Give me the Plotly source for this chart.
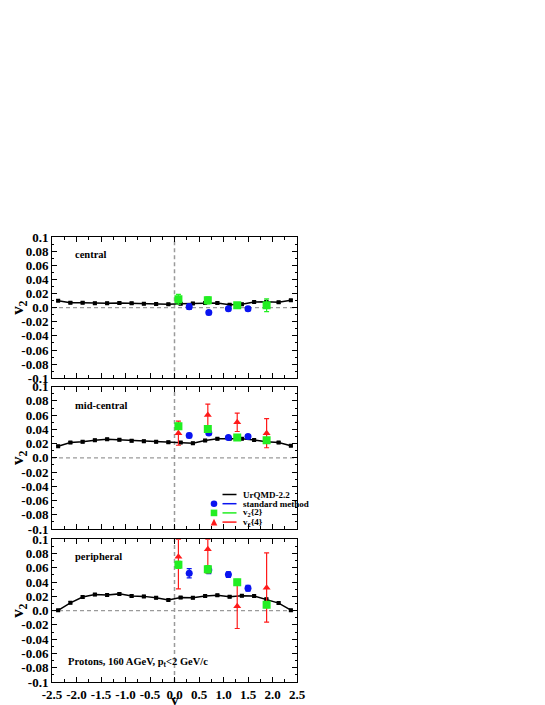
import plotly.graph_objects as go

# rapidity bins of the UrQMD-2.2 curve
Y_MODEL = [-2.375, -2.125, -1.875, -1.625, -1.375, -1.125, -0.875, -0.625, -0.375, -0.125,
           0.125, 0.375, 0.625, 0.875, 1.125, 1.375, 1.625, 1.875, 2.125, 2.375]

URQMD_CENTRAL = [0.0099, 0.0070, 0.0070, 0.0062, 0.0062, 0.0066, 0.0062, 0.0056, 0.0050, 0.0047,
                 0.0056, 0.0060, 0.0066, 0.0066, 0.0040, 0.0047, 0.0080, 0.0085, 0.0075, 0.0104]
URQMD_MID = [0.0164, 0.0215, 0.0225, 0.0248, 0.0260, 0.0253, 0.0239, 0.0234, 0.0225, 0.0220,
             0.0215, 0.0206, 0.0244, 0.0267, 0.0270, 0.0270, 0.0250, 0.0225, 0.0215, 0.0170]
URQMD_PERI = [0.0005, 0.0110, 0.0190, 0.0225, 0.0218, 0.0235, 0.0205, 0.0200, 0.0180, 0.0150,
              0.0183, 0.0180, 0.0205, 0.0215, 0.0195, 0.0210, 0.0205, 0.0160, 0.0106, 0.0007]
URQMD_ERR = [0.0012, 0.0015, 0.0015, 0.0015, 0.0015, 0.0015, 0.0015, 0.0015, 0.0015, 0.0015,
             0.0015, 0.0015, 0.0015, 0.0015, 0.0015, 0.0015, 0.0015, 0.0015, 0.0015, 0.0012]

# NA49 data: standard method, v2{2}, v2{4}
Y_SM = [0.3, 0.7, 1.1, 1.5]
Y_CUM = [0.08, 0.68, 1.28, 1.88]

SM_CENTRAL = [0.0014, -0.0070, -0.0014, -0.0014]
SM_CENTRAL_ERR = [0.0040, 0.0030, 0.0030, 0.0030]
SM_MID = [0.0314, 0.0350, 0.0286, 0.0300]
SM_MID_ERR = [0.0030, 0.0025, 0.0020, 0.0025]
SM_PERI = [0.0525, 0.0570, 0.0505, 0.0313]
SM_PERI_ERR = [0.0065, 0.0050, 0.0040, 0.0040]

V22_CENTRAL = [0.0118, 0.0104, 0.0033, 0.0033]
V22_CENTRAL_ERR = [0.0070, 0.0050, 0.0040, 0.0090]
V22_MID = [0.0445, 0.0407, 0.0286, 0.0248]
V22_MID_ERR = [0.0045, 0.0025, 0.0020, 0.0030]
V22_PERI = [0.0642, 0.0580, 0.0398, 0.0082]
V22_PERI_ERR = [0.0050, 0.0050, 0.0040, 0.0040]

V24_MID = [0.0347, 0.0604, 0.0500, 0.0347]
V24_MID_ERR = [0.0170, 0.0150, 0.0130, 0.0205]
V24_PERI = [0.0755, 0.0860, 0.0060, 0.0320]
V24_PERI_UP = [0.0245, 0.0140, 0.0350, 0.0490]
V24_PERI_DN = [0.0450, 0.0330, 0.0310, 0.0480]

Y_TICKS = [-0.1, -0.08, -0.06, -0.04, -0.02, 0.0, 0.02, 0.04, 0.06, 0.08, 0.1]
Y_TICKTEXT = ["-0.1", "-0.08", "-0.06", "-0.04", "-0.02", "0.0", "0.02", "0.04", "0.06", "0.08", "0.1"]
X_TICKS = [-2.5, -2.0, -1.5, -1.0, -0.5, 0.0, 0.5, 1.0, 1.5, 2.0, 2.5]
X_TICKTEXT = ["-2.5", "-2.0", "-1.5", "-1.0", "-0.5", "0.0", "0.5", "1.0", "1.5", "2.0", "2.5"]

PANELS = ["central", "mid-central", "peripheral"]

BLUE = "#0a14f0"
GREEN = "#22ee22"
RED = "#ff1a1a"
FONT = "Liberation Serif"

# page geometry (pixels); the html body adds an 8px offset
OFF = 8
W, H = 545, 705
L, R, T, B = 52 - OFF, 256, 237 - OFF, 23 + OFF
PW, PH = W - L - R, H - T - B


def px(xp):
    return (xp - OFF - L) / PW


def py(yp):
    return (H - B - (yp - OFF)) / PH


def clamp(v):
    return min(1.0, max(0.0, v))


fig = go.Figure()

domains = [[clamp(py(378.3)), clamp(py(237))], [clamp(py(529.0)), clamp(py(386.7))],
           [clamp(py(682)), clamp(py(539.3))]]
model = [URQMD_CENTRAL, URQMD_MID, URQMD_PERI]
sm = [(SM_CENTRAL, SM_CENTRAL_ERR), (SM_MID, SM_MID_ERR), (SM_PERI, SM_PERI_ERR)]
v22 = [(V22_CENTRAL, V22_CENTRAL_ERR), (V22_MID, V22_MID_ERR), (V22_PERI, V22_PERI_ERR)]

for i in range(3):
    xa = "x" if i == 0 else f"x{i + 1}"
    ya = "y" if i == 0 else f"y{i + 1}"
    fig.add_trace(go.Scatter(
        x=Y_MODEL, y=model[i], xaxis=xa, yaxis=ya, mode="lines+markers",
        line=dict(color="black", width=1.5),
        marker=dict(symbol="square", size=4, color="black"),
        error_y=dict(type="data", array=URQMD_ERR, color="black", thickness=1, width=2),
        showlegend=False, cliponaxis=True))
    fig.add_trace(go.Scatter(
        x=Y_SM, y=sm[i][0], xaxis=xa, yaxis=ya, mode="markers",
        marker=dict(symbol="circle", size=7, color=BLUE),
        error_y=dict(type="data", array=sm[i][1], color=BLUE, thickness=1.2, width=2.5),
        showlegend=False))
    if i == 1:
        fig.add_trace(go.Scatter(
            x=Y_CUM, y=V24_MID, xaxis=xa, yaxis=ya, mode="markers",
            marker=dict(symbol="triangle-up", size=7, color=RED),
            error_y=dict(type="data", array=V24_MID_ERR, color=RED, thickness=1.2, width=2.5),
            showlegend=False))
    if i == 2:
        fig.add_trace(go.Scatter(
            x=Y_CUM, y=V24_PERI, xaxis=xa, yaxis=ya, mode="markers",
            marker=dict(symbol="triangle-up", size=7, color=RED),
            error_y=dict(type="data", symmetric=False, array=V24_PERI_UP, arrayminus=V24_PERI_DN,
                         color=RED, thickness=1.2, width=2.5),
            showlegend=False))
    fig.add_trace(go.Scatter(
        x=Y_CUM, y=v22[i][0], xaxis=xa, yaxis=ya, mode="markers",
        marker=dict(symbol="square", size=8, color=GREEN),
        error_y=dict(type="data", array=v22[i][1], color=GREEN, thickness=1.2, width=2.5),
        showlegend=False))

    # reference lines at y=0 and v2=0
    fig.add_shape(type="line", xref=xa, yref=f"{ya} domain", x0=0, x1=0, y0=0, y1=1,
                  line=dict(color="#9a9a9a", width=1.5, dash="4px,3px"), layer="below")
    fig.add_shape(type="line", xref=f"{xa} domain", yref=ya, x0=0, x1=1, y0=0, y1=0,
                  line=dict(color="#9a9a9a", width=1.2, dash="4px,3px"), layer="below")

    fig.add_annotation(text=PANELS[i], xref="paper", yref="paper",
                       x=px(73), y=py([254, 405, 556.5][i]), xanchor="left", yanchor="middle",
                       showarrow=False, font=dict(family=FONT, size=10.5, color="black", weight="bold"))

axis_common = dict(showgrid=False, zeroline=False, showline=True, linecolor="black", linewidth=1,
                   mirror="ticks", ticks="inside", tickcolor="black",
                   tickfont=dict(family=FONT, size=13, color="black", weight="bold"))

for i in range(3):
    sfx = "" if i == 0 else str(i + 1)
    fig.update_layout({
        f"xaxis{sfx}": dict(axis_common, domain=[0, 1], anchor=f"y{sfx}", range=[-2.5, 2.5],
                            tickvals=X_TICKS, ticktext=X_TICKTEXT, ticklen=5,
                            showticklabels=(i == 2),
                            minor=dict(dtick=0.25, tick0=0, ticklen=3, ticks="inside", tickcolor="black")),
        f"yaxis{sfx}": dict(axis_common, domain=domains[i], anchor=f"x{sfx}", range=[-0.1, 0.1],
                            tickvals=Y_TICKS, ticktext=Y_TICKTEXT, ticklen=5,
                            minor=dict(dtick=0.01, tick0=0, ticklen=2, ticks="inside", tickcolor="black"),
                            title=dict(text="v<sub>2</sub>", standoff=3,
                                       font=dict(family=FONT, size=17, color="black", weight="bold"))),
    })

# x-axis label and caption
fig.add_annotation(text="y", xref="paper", yref="paper", x=0.5, y=py(700), showarrow=False,
                   xanchor="center", yanchor="middle",
                   font=dict(family=FONT, size=15, color="black", weight="bold"))
fig.add_annotation(text="Protons, 160 AGeV, p<sub>t</sub><2 GeV/c", xref="paper", yref="paper",
                   x=px(66), y=py(662), xanchor="left", yanchor="middle", showarrow=False,
                   font=dict(family=FONT, size=10.5, color="black", weight="bold"))

# hand-drawn legend in the mid-central panel
legend_rows = [("UrQMD-2.2", "black", None), ("standard method", BLUE, "circle"),
               ("v<sub>2</sub>{2}", GREEN, "square"), ("v<sub>2</sub>{4}", RED, "triangle")]
for k, (label, col, sym) in enumerate(legend_rows):
    yy = 494.5 + 9.2 * k
    fig.add_shape(type="line", xref="paper", yref="paper", x0=px(222.5), x1=px(236.5), y0=py(yy), y1=py(yy),
                  line=dict(color=col, width=1.5))
    r = 3.3
    if sym == "circle":
        fig.add_shape(type="circle", xref="paper", yref="paper", x0=px(214 - r), x1=px(214 + r),
                      y0=py(yy + r), y1=py(yy - r), fillcolor=col, line=dict(width=0))
    elif sym == "square":
        fig.add_shape(type="rect", xref="paper", yref="paper", x0=px(214 - r), x1=px(214 + r),
                      y0=py(yy + r), y1=py(yy - r), fillcolor=col, line=dict(width=0))
    elif sym == "triangle":
        path = f"M {px(214 - r)} {py(yy + r)} L {px(214 + r)} {py(yy + r)} L {px(214)} {py(yy - r)} Z"
        fig.add_shape(type="path", xref="paper", yref="paper", path=path, fillcolor=col, line=dict(width=0))
    fig.add_annotation(text=label, xref="paper", yref="paper", x=px(240.5), y=py(yy),
                       xanchor="left", yanchor="middle", showarrow=False,
                       font=dict(family=FONT, size=9, color="black", weight="bold"))

fig.update_layout(width=W, height=H, margin=dict(l=L, r=R, t=T, b=B, autoexpand=False),
                  plot_bgcolor="white", paper_bgcolor="white", showlegend=False)

fig.write_html("out.html")
